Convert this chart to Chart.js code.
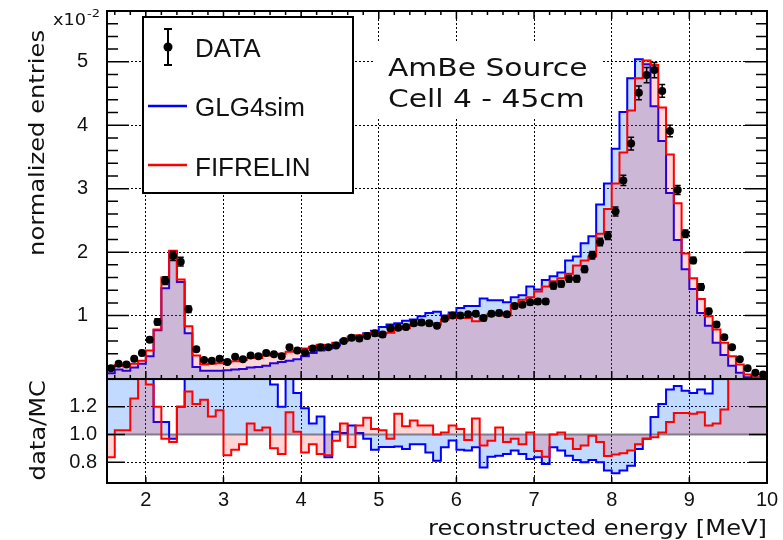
<!DOCTYPE html>
<html>
<head>
<meta charset="utf-8">
<title>AmBe Source - Cell 4 - 45cm</title>
<script src="https://cdn.jsdelivr.net/npm/chart.js@4.4.1/dist/chart.umd.min.js"></script>
<style>
  html, body { margin: 0; padding: 0; background: #fff; }
  #wrap { position: relative; width: 783px; height: 540px; }
</style>
</head>
<body>
<div id="wrap"><canvas id="spectrum" width="783" height="540"></canvas></div>
<script>
// Bin centres of the reconstructed energy histograms [MeV]
const energy = [
  1.55, 1.65, 1.75, 1.85, 1.95, 2.05, 2.15, 2.25, 2.35, 2.45,
  2.55, 2.65, 2.75, 2.85, 2.95, 3.05, 3.15, 3.25, 3.35, 3.45,
  3.55, 3.65, 3.75, 3.85, 3.95, 4.05, 4.15, 4.25, 4.35, 4.45,
  4.55, 4.65, 4.75, 4.85, 4.95, 5.05, 5.15, 5.25, 5.35, 5.45,
  5.55, 5.65, 5.75, 5.85, 5.95, 6.05, 6.15, 6.25, 6.35, 6.45,
  6.55, 6.65, 6.75, 6.85, 6.95, 7.05, 7.15, 7.25, 7.35, 7.45,
  7.55, 7.65, 7.75, 7.85, 7.95, 8.05, 8.15, 8.25, 8.35, 8.45,
  8.55, 8.65, 8.75, 8.85, 8.95, 9.05, 9.15, 9.25, 9.35, 9.45,
  9.55, 9.65, 9.75, 9.85, 9.95
];
const BIN_WIDTH = 0.1;

// Normalized entries (x 1e-2)
const dataVals = [
  0.17, 0.24, 0.23, 0.32, 0.41, 0.62, 0.90, 1.55, 1.94, 1.85,
  1.10, 0.47, 0.30, 0.29, 0.32, 0.27, 0.35, 0.31, 0.37, 0.36,
  0.41, 0.39, 0.36, 0.50, 0.45, 0.42, 0.48, 0.50, 0.50, 0.53,
  0.60, 0.65, 0.64, 0.68, 0.72, 0.70, 0.80, 0.81, 0.82, 0.88,
  0.89, 0.88, 0.84, 0.95, 1.00, 1.00, 1.02, 1.03, 0.96, 1.03,
  1.04, 1.02, 1.15, 1.17, 1.21, 1.22, 1.22, 1.47, 1.50, 1.58,
  1.58, 1.73, 1.95, 2.16, 2.26, 2.64, 3.13, 3.71, 4.51, 4.79,
  4.87, 4.54, 3.91, 2.98, 2.29, 1.87, 1.45, 1.07, 0.86, 0.66,
  0.50, 0.31, 0.17, 0.10, 0.07
];
const dataErr = [
  0.03, 0.03, 0.03, 0.03, 0.04, 0.04, 0.05, 0.06, 0.07, 0.07,
  0.05, 0.03, 0.03, 0.03, 0.03, 0.03, 0.03, 0.03, 0.03, 0.03,
  0.03, 0.03, 0.03, 0.03, 0.03, 0.03, 0.03, 0.03, 0.03, 0.03,
  0.03, 0.04, 0.04, 0.04, 0.04, 0.04, 0.04, 0.04, 0.04, 0.04,
  0.04, 0.04, 0.04, 0.04, 0.04, 0.04, 0.04, 0.04, 0.04, 0.04,
  0.04, 0.04, 0.04, 0.04, 0.04, 0.04, 0.04, 0.05, 0.05, 0.05,
  0.05, 0.05, 0.06, 0.06, 0.06, 0.07, 0.08, 0.10, 0.11, 0.12,
  0.12, 0.10, 0.09, 0.07, 0.06, 0.05, 0.05, 0.04, 0.04, 0.03,
  0.03, 0.03, 0.02, 0.02, 0.02
];
const glg4sim = [
  0.09, 0.15, 0.13, 0.18, 0.24, 0.36, 0.77, 1.43, 2.00, 1.53,
  0.72, 0.19, 0.13, 0.13, 0.13, 0.14, 0.15, 0.16, 0.18, 0.19,
  0.21, 0.25, 0.27, 0.29, 0.31, 0.36, 0.41, 0.45, 0.48, 0.53,
  0.60, 0.64, 0.67, 0.72, 0.76, 0.82, 0.86, 0.88, 0.92, 0.94,
  0.99, 1.04, 1.06, 1.00, 1.05, 1.12, 1.15, 1.15, 1.27, 1.24,
  1.24, 1.21, 1.29, 1.32, 1.46, 1.41, 1.56, 1.62, 1.68, 1.87,
  1.93, 2.14, 2.25, 2.75, 3.08, 3.63, 4.21, 4.74, 5.04, 4.96,
  4.30, 3.75, 2.93, 2.19, 1.73, 1.42, 1.04, 0.84, 0.57, 0.38,
  0.21, 0.10, 0.03, 0.02, 0.01
];
const fifrelin = [
  0.19, 0.22, 0.20, 0.24, 0.29, 0.45, 0.78, 1.60, 2.02, 1.57,
  0.83, 0.37, 0.23, 0.24, 0.25, 0.26, 0.28, 0.30, 0.33, 0.33,
  0.37, 0.39, 0.40, 0.43, 0.44, 0.48, 0.51, 0.54, 0.53, 0.57,
  0.61, 0.67, 0.69, 0.71, 0.74, 0.72, 0.73, 0.79, 0.80, 0.85,
  0.87, 0.88, 0.86, 0.94, 1.02, 0.96, 0.96, 0.91, 0.99, 1.02,
  1.04, 1.00, 1.17, 1.25, 1.29, 1.38, 1.46, 1.54, 1.59, 1.66,
  1.79, 1.87, 1.93, 2.29, 2.68, 3.08, 3.57, 4.23, 4.74, 5.02,
  4.95, 4.28, 3.54, 2.77, 1.98, 1.59, 1.26, 0.99, 0.78, 0.57,
  0.36, 0.23, 0.07, 0.03, 0.02
];

// data/MC ratios (1.4 = off the top of the pad)
const ratioGlg = [
  1.40, 1.40, 1.40, 1.40, 1.40, 1.40, 1.09, 1.09, 0.97, 1.20,
  1.40, 1.40, 1.40, 1.40, 1.40, 1.40, 1.40, 1.40, 1.40, 1.40,
  1.40, 1.36, 1.20, 1.40, 1.30, 1.19, 1.08, 1.13, 0.835, 1.02,
  1.01, 1.065, 1.01, 0.97, 0.89, 0.91, 0.91, 0.913, 0.896, 0.93,
  0.93, 0.87, 0.81, 0.908, 0.956, 0.89, 0.884, 0.908, 0.762, 0.84,
  0.847, 0.86, 0.884, 0.86, 0.823, 0.835, 0.787, 0.908, 0.884, 0.847,
  0.816, 0.80, 0.816, 0.80, 0.74, 0.72, 0.74, 0.775, 0.896, 0.97,
  1.126, 1.22, 1.325, 1.35, 1.315, 1.30, 1.325, 1.296, 1.40, 1.40,
  1.40, 1.40, 1.40, 1.40, 1.40
];
const ratioFif = [
  0.835, 1.03, 1.03, 1.26, 1.40, 1.36, 1.20, 0.97, 0.945, 1.20,
  1.31, 1.22, 1.25, 1.13, 1.175, 0.85, 0.89, 0.93, 1.08, 1.03,
  1.05, 0.90, 0.86, 1.16, 1.02, 0.87, 0.93, 0.86, 0.85, 0.955,
  1.08, 0.91, 1.065, 1.12, 1.04, 1.03, 0.97, 1.15, 1.06, 1.10,
  1.065, 1.065, 1.00, 1.015, 1.065, 1.04, 0.96, 1.115, 0.92, 0.955,
  1.05, 0.945, 0.97, 0.93, 1.015, 0.88, 0.84, 1.00, 1.015, 0.97,
  0.895, 0.92, 0.99, 0.945, 0.845, 0.855, 0.865, 0.885, 0.93, 0.97,
  0.98, 1.015, 1.09, 1.155, 1.155, 1.15, 1.16, 1.065, 1.08, 1.18,
  1.40, 1.40, 1.40, 1.40, 1.40
];

const xTicks = [2, 3, 4, 5, 6, 7, 8, 9, 10];
const yTicks = [1, 2, 3, 4, 5];
const ratioTicks = [0.8, 1.0, 1.2];

const TEXT = '#111';
const SANS = '"Liberation Sans", Arial, sans-serif';
const WIDE = '"DejaVu Sans", sans-serif';

// histogram outline: one point per lower bin edge plus the last upper edge
function histPoints(values) {
  const pts = values.map((v, i) => ({ x: energy[i] - BIN_WIDTH / 2, y: v }));
  const last = values.length - 1;
  pts.push({ x: energy[last] + BIN_WIDTH / 2, y: values[last] });
  return pts;
}

function histDataset(label, values, axis, color, fillColor, fill, order) {
  return {
    label: label,
    data: histPoints(values),
    yAxisID: axis,
    stepped: 'before',
    borderColor: color,
    borderWidth: 2,
    backgroundColor: fillColor,
    fill: fill,
    pointRadius: 0,
    tension: 0,
    order: order
  };
}

// ROOT-like text: a little wider than the installed fonts
function wideText(ctx, text, x, y, size, align, angle) {
  ctx.save();
  ctx.translate(x, y);
  if (angle) ctx.rotate(angle);
  ctx.scale(1.18, 1);
  ctx.font = size + 'px ' + WIDE;
  ctx.fillStyle = TEXT;
  ctx.textAlign = align;
  ctx.textBaseline = 'alphabetic';
  ctx.fillText(text, 0, 0);
  ctx.restore();
}

// keep the pads at fixed size: no extra room for overhanging tick labels
function fixedWidth(s) {
  s.width = 107;
  s.paddingTop = 0;
  s.paddingBottom = 0;
}

const rootStyle = {
  id: 'rootStyle',
  beforeDatasetsDraw(chart) {
    // unity line of the ratio pad
    const { ctx, chartArea } = chart;
    const y1 = chart.scales.ratio.getPixelForValue(1);
    ctx.save();
    ctx.strokeStyle = '#8a8a8a';
    ctx.lineWidth = 2;
    ctx.beginPath();
    ctx.moveTo(chartArea.left, y1);
    ctx.lineTo(chartArea.right, y1);
    ctx.stroke();
    ctx.restore();
  },
  beforeDatasetDraw(chart, args) {
    if (args.index !== 0) return;
    // error bars under the data markers
    const { ctx } = chart;
    const xs = chart.scales.x, ys = chart.scales.y;
    ctx.save();
    ctx.strokeStyle = '#000';
    ctx.lineWidth = 1.5;
    dataVals.forEach((v, i) => {
      const px = xs.getPixelForValue(energy[i]);
      const lo = ys.getPixelForValue(v - dataErr[i]);
      const hi = ys.getPixelForValue(v + dataErr[i]);
      ctx.beginPath();
      ctx.moveTo(px, lo); ctx.lineTo(px, hi);
      ctx.moveTo(px - 3, lo); ctx.lineTo(px + 3, lo);
      ctx.moveTo(px - 3, hi); ctx.lineTo(px + 3, hi);
      ctx.stroke();
    });
    ctx.restore();
  },
  afterDatasetsDraw(chart) {
    const { ctx, chartArea } = chart;
    const xs = chart.scales.x, ys = chart.scales.y, rs = chart.scales.ratio;
    const L = chartArea.left, R = chartArea.right;
    const top = ys.top, mid = ys.bottom, bot = rs.bottom;

    ctx.save();
    ctx.strokeStyle = '#000';
    ctx.lineWidth = 1.5;
    ctx.beginPath();
    // y ticks of the spectrum pad, both sides, every 0.2
    for (let k = 1; k < 29; k++) {
      const py = ys.getPixelForValue(k * 0.2);
      const len = k % 5 === 0 ? 22 : 11;
      ctx.moveTo(L, py); ctx.lineTo(L + len, py);
      ctx.moveTo(R, py); ctx.lineTo(R - len, py);
    }
    // x ticks on top and bottom of the spectrum pad
    for (let k = 8; k < 50; k++) {
      const px = xs.getPixelForValue(k * 0.2);
      const len = k % 5 === 0 ? 8 : 4;
      ctx.moveTo(px, top); ctx.lineTo(px, top + len);
      ctx.moveTo(px, mid); ctx.lineTo(px, mid - len);
    }
    // ratio pad ticks
    ratioTicks.forEach(v => {
      const py = rs.getPixelForValue(v);
      ctx.moveTo(L, py); ctx.lineTo(L + 18, py);
      ctx.moveTo(R, py); ctx.lineTo(R - 18, py);
    });
    xTicks.forEach(v => {
      const px = xs.getPixelForValue(v);
      ctx.moveTo(px, bot); ctx.lineTo(px, bot - 6);
    });
    ctx.stroke();

    // pad frames
    ctx.lineWidth = 2;
    ctx.strokeRect(L, top, R - L, mid - top);
    ctx.strokeRect(L, mid, R - L, bot - mid);
    ctx.restore();
  },
  afterDraw(chart) {
    const { ctx } = chart;
    ctx.save();

    // axis titles
    wideText(ctx, 'normalized entries', 44, 30, 20.5, 'right', -Math.PI / 2);
    wideText(ctx, 'data/MC', 45, 380, 20.5, 'right', -Math.PI / 2);
    wideText(ctx, 'reconstructed energy [MeV]', 767, 535, 20.5, 'right');

    // exponent of the y axis
    wideText(ctx, 'x10', 53, 25, 15, 'left');
    wideText(ctx, '-2', 87, 17, 11, 'left');

    // source label on a white pave
    ctx.fillStyle = '#fff';
    ctx.fillRect(375, 43, 228, 74);
    wideText(ctx, 'AmBe Source', 388, 76, 25.2, 'left');
    wideText(ctx, 'Cell 4 - 45cm', 388, 107, 25.2, 'left');

    // legend box
    ctx.fillStyle = '#fff';
    ctx.fillRect(143, 17, 210, 176);
    ctx.strokeStyle = '#000';
    ctx.lineWidth = 2;
    ctx.strokeRect(143, 17, 210, 176);

    ctx.lineWidth = 2;
    ctx.beginPath();
    ctx.moveTo(168, 29); ctx.lineTo(168, 65);
    ctx.moveTo(164, 29); ctx.lineTo(172, 29);
    ctx.moveTo(164, 65); ctx.lineTo(172, 65);
    ctx.stroke();
    ctx.fillStyle = '#000';
    ctx.beginPath();
    ctx.arc(168, 47, 4.5, 0, Math.PI * 2);
    ctx.fill();

    ctx.lineWidth = 2.5;
    ctx.strokeStyle = '#0000ff';
    ctx.beginPath(); ctx.moveTo(148, 106); ctx.lineTo(187, 106); ctx.stroke();
    ctx.strokeStyle = '#ff0000';
    ctx.beginPath(); ctx.moveTo(148, 165); ctx.lineTo(187, 165); ctx.stroke();

    ctx.fillStyle = TEXT;
    ctx.textAlign = 'left';
    ctx.textBaseline = 'alphabetic';
    ctx.font = '26px ' + SANS;
    ctx.fillText('DATA', 195, 57);
    ctx.fillText('GLG4sim', 195, 116);
    ctx.fillText('FIFRELIN', 195, 176);

    ctx.restore();
  }
};

Chart.defaults.font.family = SANS;
Chart.defaults.color = TEXT;

const gridOpts = { color: '#000', lineWidth: 1, drawTicks: false };
const tickFont = { family: SANS, size: 20 };

new Chart(document.getElementById('spectrum'), {
  type: 'line',
  data: {
    datasets: [
      {
        label: 'DATA',
        data: energy.map((e, i) => ({ x: e, y: dataVals[i] })),
        yAxisID: 'y',
        showLine: false,
        pointRadius: 4,
        pointBackgroundColor: '#000',
        pointBorderWidth: 0,
        order: 0
      },
      histDataset('FIFRELIN', fifrelin, 'y', '#ff0000', 'rgba(255, 0, 0, 0.16)', 'origin', 1),
      histDataset('GLG4sim', glg4sim, 'y', '#0000ff', 'rgba(0, 100, 255, 0.24)', 'origin', 2),
      histDataset('FIFRELIN data/MC', ratioFif, 'ratio', '#ff0000', 'rgba(255, 0, 0, 0.16)', { value: 1 }, 3),
      histDataset('GLG4sim data/MC', ratioGlg, 'ratio', '#0000ff', 'rgba(0, 100, 255, 0.24)', { value: 1 }, 4)
    ]
  },
  options: {
    responsive: false,
    animation: false,
    events: [],
    layout: { padding: { top: 11, right: 16, bottom: 0, left: 0 } },
    plugins: {
      legend: { display: false },
      tooltip: { enabled: false }
    },
    scales: {
      x: {
        type: 'linear',
        min: 1.5,
        max: 10,
        afterBuildTicks: s => { s.ticks = xTicks.map(v => ({ value: v })); },
        afterFit: s => { s.height = 57; s.paddingLeft = 0; s.paddingRight = 0; },
        grid: gridOpts,
        border: { display: false, dash: [2, 2] },
        ticks: { font: tickFont, color: TEXT, padding: 5, maxRotation: 0, autoSkip: false, callback: v => v }
      },
      y: {
        type: 'linear',
        position: 'left',
        stack: 'pads',
        stackWeight: 3.54,
        weight: 2,
        min: 0,
        max: 5.8,
        afterBuildTicks: s => { s.ticks = yTicks.map(v => ({ value: v })); },
        afterFit: fixedWidth,
        grid: gridOpts,
        border: { display: false, dash: [2, 2] },
        ticks: { font: tickFont, color: TEXT, padding: 19, callback: v => v }
      },
      ratio: {
        type: 'linear',
        position: 'left',
        stack: 'pads',
        stackWeight: 1,
        weight: 1,
        min: 0.65,
        max: 1.4,
        afterBuildTicks: s => { s.ticks = ratioTicks.map(v => ({ value: v })); },
        afterFit: fixedWidth,
        grid: {
          color: c => (c.tick && c.tick.value === 1 ? 'rgba(0,0,0,0)' : '#000'),
          lineWidth: 1,
          drawTicks: false
        },
        border: { display: false, dash: [2, 2] },
        ticks: { font: tickFont, color: TEXT, padding: 10, callback: v => v.toFixed(1) }
      }
    }
  },
  plugins: [rootStyle]
});
</script>
</body>
</html>
